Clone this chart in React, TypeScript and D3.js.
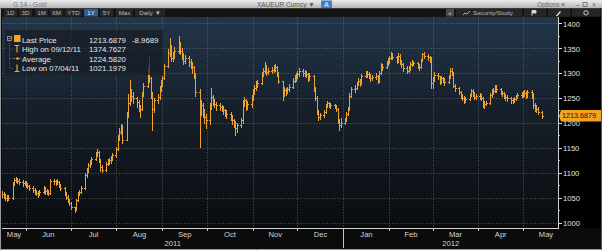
import React from "react";
import * as d3 from "d3";

const W = 602;
const H = 250;

// Daily closes, 16 May 2011 .. 14 May 2012 (weekdays)
const closes = [
  // May 2011
  1058, 1055, 1050, 1049, 1050, 1078, 1086, 1088, 1084, 1082, 1079, 1080,
  // Jun
  1076, 1073, 1070, 1066, 1062, 1060, 1057, 1061, 1070, 1063, 1062, 1060, 1083, 1083, 1080, 1082, 1076, 1070, 1060, 1052, 1045, 1040,
  // Jul
  1032, 1026, 1045, 1058, 1062, 1070, 1095, 1105, 1116, 1120, 1128, 1138, 1142, 1126, 1112, 1106, 1118, 1122, 1125, 1128, 1135,
  // Aug
  1148, 1170, 1182, 1190, 1165, 1218, 1240, 1262, 1255, 1250, 1242, 1232, 1228, 1258, 1275, 1298, 1290, 1258, 1228, 1245, 1252, 1270, 1280,
  // Sep
  1290, 1315, 1340, 1352, 1330, 1335, 1345, 1360, 1345, 1335, 1325, 1330, 1322, 1318, 1312, 1298, 1262, 1225, 1236, 1222, 1212, 1205,
  // Oct
  1232, 1252, 1245, 1238, 1235, 1232, 1230, 1226, 1220, 1218, 1212, 1205, 1200, 1190, 1196, 1205, 1240, 1245, 1232, 1238, 1250,
  // Nov
  1262, 1270, 1278, 1280, 1298, 1305, 1315, 1302, 1305, 1306, 1310, 1312, 1300, 1285, 1258, 1266, 1262, 1268, 1272, 1285, 1290, 1293,
  // Dec
  1298, 1305, 1300, 1302, 1298, 1290, 1295, 1268, 1250, 1222, 1212, 1215, 1222, 1235, 1240, 1238, 1236, 1234, 1228, 1205, 1195, 1200,
  // Jan 2012
  1205, 1218, 1228, 1255, 1268, 1270, 1278, 1285, 1280, 1295, 1300, 1298, 1296, 1290, 1292, 1295, 1285, 1300, 1315, 1312, 1320, 1325,
  // Feb
  1330, 1338, 1332, 1325, 1335, 1322, 1318, 1310, 1305, 1310, 1318, 1322, 1320, 1315, 1312, 1325, 1338, 1335, 1332, 1328, 1280,
  // Mar
  1288, 1296, 1294, 1282, 1290, 1286, 1282, 1292, 1305, 1300, 1275, 1270, 1262, 1255, 1250, 1246, 1248, 1255, 1264, 1260, 1252, 1254,
  // Apr
  1255, 1250, 1236, 1238, 1240, 1256, 1262, 1265, 1272, 1268, 1262, 1260, 1256, 1252, 1250, 1246, 1245, 1248, 1252, 1256, 1258,
  // May 2012
  1258, 1260, 1255, 1262, 1258, 1235, 1230, 1228, 1222.66, 1213.69,
];

const highs = [
  1064, 1062, 1058, 1055, 1056, 1082, 1090, 1092, 1090, 1088, 1085, 1084,
  1083, 1079, 1076, 1073, 1069, 1066, 1063, 1065, 1074, 1072, 1068, 1066, 1087, 1088, 1086, 1087, 1084, 1078, 1072, 1062, 1055, 1048,
  1042, 1030, 1048, 1062, 1066, 1074, 1100, 1110, 1120, 1126, 1132, 1142, 1147, 1143, 1128, 1115, 1122, 1127, 1130, 1133, 1140,
  1152, 1176, 1190, 1198, 1195, 1222, 1258, 1286, 1268, 1262, 1252, 1246, 1236, 1262, 1280, 1312, 1333, 1292, 1262, 1250, 1258, 1275, 1286,
  1294, 1318, 1348, 1371, 1356, 1342, 1352, 1375, 1362, 1350, 1340, 1336, 1334, 1328, 1322, 1315, 1300, 1268, 1245, 1240, 1228, 1218,
  1240, 1270, 1256, 1248, 1242, 1240, 1236, 1234, 1228, 1225, 1222, 1215, 1208, 1204, 1200, 1210, 1246, 1252, 1248, 1244, 1256,
  1268, 1276, 1284, 1286, 1302, 1310, 1322, 1316, 1310, 1312, 1316, 1318, 1314, 1302, 1282, 1272, 1270, 1272, 1278, 1290, 1296, 1300,
  1304, 1311, 1308, 1306, 1305, 1300, 1300, 1296, 1272, 1254, 1225, 1220, 1226, 1238, 1244, 1242, 1240, 1238, 1236, 1230, 1208, 1210,
  1210, 1222, 1232, 1260, 1272, 1276, 1282, 1290, 1288, 1298, 1305, 1304, 1302, 1298, 1296, 1300, 1296, 1304, 1320, 1318, 1324, 1330,
  1335, 1343, 1340, 1334, 1340, 1338, 1326, 1320, 1314, 1315, 1322, 1326, 1325, 1322, 1318, 1328, 1341, 1342, 1338, 1334, 1332,
  1292, 1302, 1300, 1295, 1294, 1292, 1290, 1296, 1310, 1311, 1302, 1278, 1272, 1264, 1258, 1254, 1252, 1258, 1268, 1268, 1262, 1258,
  1260, 1258, 1252, 1244, 1244, 1260, 1268, 1270, 1277, 1276, 1270, 1265, 1262, 1258, 1256, 1252, 1250, 1252, 1256, 1260, 1262,
  1264, 1266, 1264, 1266, 1266, 1260, 1240, 1236, 1232, 1224,
];

const lows = [
  1052, 1050, 1046, 1044, 1045, 1048, 1076, 1082, 1080, 1077, 1074, 1075,
  1072, 1069, 1066, 1062, 1058, 1055, 1052, 1055, 1059, 1058, 1057, 1055, 1058, 1078, 1076, 1077, 1072, 1066, 1056, 1048, 1041, 1035,
  1028, 1021, 1025, 1043, 1055, 1060, 1068, 1092, 1102, 1112, 1118, 1126, 1134, 1122, 1104, 1102, 1104, 1115, 1118, 1120, 1126,
  1132, 1146, 1166, 1178, 1160, 1165, 1212, 1236, 1244, 1240, 1232, 1224, 1212, 1226, 1255, 1272, 1282, 1250, 1186, 1222, 1240, 1248, 1265,
  1274, 1288, 1312, 1335, 1325, 1324, 1330, 1340, 1338, 1328, 1318, 1320, 1315, 1310, 1300, 1290, 1255, 1152, 1215, 1212, 1200, 1190,
  1198, 1228, 1236, 1232, 1226, 1225, 1224, 1218, 1214, 1210, 1206, 1198, 1192, 1176, 1182, 1192, 1200, 1234, 1225, 1228, 1232,
  1245, 1258, 1266, 1272, 1278, 1295, 1300, 1296, 1298, 1300, 1302, 1305, 1295, 1280, 1246, 1255, 1256, 1260, 1264, 1270, 1282, 1285,
  1290, 1295, 1294, 1295, 1292, 1285, 1286, 1264, 1245, 1218, 1206, 1208, 1212, 1220, 1232, 1232, 1230, 1230, 1224, 1200, 1186, 1192,
  1198, 1203, 1215, 1225, 1252, 1262, 1268, 1276, 1275, 1278, 1292, 1292, 1290, 1285, 1286, 1288, 1280, 1282, 1298, 1306, 1310, 1316,
  1320, 1328, 1328, 1320, 1322, 1318, 1312, 1305, 1300, 1303, 1306, 1315, 1316, 1310, 1306, 1310, 1324, 1330, 1326, 1322, 1270,
  1270, 1284, 1288, 1278, 1280, 1282, 1276, 1280, 1290, 1296, 1272, 1265, 1258, 1250, 1245, 1240, 1242, 1246, 1254, 1255, 1248, 1248,
  1248, 1245, 1232, 1230, 1235, 1238, 1252, 1258, 1262, 1262, 1258, 1254, 1250, 1246, 1244, 1240, 1240, 1242, 1246, 1250, 1252,
  1252, 1254, 1250, 1252, 1250, 1230, 1224, 1222, 1218, 1210,
];

const firstOpen = 1060;
const yTicks = [1000, 1050, 1100, 1150, 1200, 1250, 1300, 1350, 1400];
const yMinorTicks = [1025, 1075, 1125, 1175, 1225, 1275, 1325, 1375];
const lastPriceText = "1213.6879";
const legendLabels = ["Last Price", "High on 09/12/11", "Average", "Low on 07/04/11"];
const legendValues = ["1213.6879", "1374.7627", "1224.5820", "1021.1979"];
const legendChange = "-8.9689";
const rangeButtons = ["1D", "3D", "1M", "6M", "YTD", "1Y", "5Y", "Max", "Daily \u25BC"];
const years = [2011, 2012];

const FONT = "'Liberation Sans', Arial, 'DejaVu Sans', sans-serif";
const ORANGE = "#eba236";

export default function App() {
  const dates = d3
    .utcDay.range(new Date(Date.UTC(2011, 4, 16)), new Date(Date.UTC(2012, 4, 15)))
    .filter((d) => d.getUTCDay() % 6 !== 0);
  const n = Math.min(dates.length, closes.length, highs.length, lows.length);

  const PL = 2, PR = 558, PT = 17, PB = 228;
  const x = d3
    .scaleUtc()
    .domain([new Date(Date.UTC(2011, 5, 1)), new Date(Date.UTC(2012, 4, 1))])
    .range([26, 523]);
  const y = d3.scaleLinear().domain([1000, 1400]).range([222.5, 23.3]);

  let barPath = "";
  for (let i = 0; i < n; i++) {
    const open = i === 0 ? firstOpen : closes[i - 1];
    const c = closes[i];
    const hi = Math.max(highs[i], open, c);
    const lo = Math.min(lows[i], open, c);
    const bx = Math.round(x(dates[i]));
    const yh = Math.round(y(hi));
    const yl = Math.round(y(lo));
    const yo = Math.round(y(open));
    const yc = Math.round(y(c));
    barPath += `M${bx},${yh}h1v${Math.max(1, yl - yh + 1)}h-1z`;
    barPath += `M${bx - 1},${yo}h1v1h-1z`;
    barPath += `M${bx + 1},${yc}h1v1h-1z`;
  }

  const monthStarts = d3.utcMonth.range(new Date(Date.UTC(2011, 5, 1)), new Date(Date.UTC(2012, 4, 2)));
  const labelMonths = d3.utcMonth.range(new Date(Date.UTC(2011, 4, 1)), new Date(Date.UTC(2012, 5, 1)));
  const fmt = d3.utcFormat("%b");

  const lastY = y(closes[n - 1]);

  return (
    <svg
      width={W}
      height={H}
      viewBox={`0 0 ${W} ${H}`}
      style={{ position: "absolute", left: 0, top: 0, display: "block" }}
      fontFamily={FONT}
    >
      <defs>
        <linearGradient id="bg" x1="0" y1="0" x2="0" y2="1">
          <stop offset="0%" stopColor="#22364a" />
          <stop offset="45%" stopColor="#161f29" />
          <stop offset="100%" stopColor="#0a0c0f" />
        </linearGradient>
        <linearGradient id="title" x1="0" y1="0" x2="0" y2="1">
          <stop offset="0%" stopColor="#ececec" />
          <stop offset="100%" stopColor="#b4b4b4" />
        </linearGradient>
        <clipPath id="plotClip">
          <rect x={PL} y={PT} width={PR - PL} height={PB - PT} />
        </clipPath>
      </defs>

      <rect x={0} y={0} width={W} height={H} fill="#0b0b0c" />

      {/* title bar */}
      <rect x={0} y={0} width={W} height={8.5} fill="url(#title)" />
      <text x={13} y={7} fontSize={6.5} fill="#7a7a7a">G 14 - Gold</text>
      <text x={257} y={7} fontSize={6.5} fill="#555">XAUEUR Curncy  {"\u25BC"}</text>
      <rect x={321} y={0.5} width={11} height={7.5} fill="#3b7fd4" />
      <text x={326.5} y={7} fontSize={6.5} fill="#fff" textAnchor="middle">A</text>
      <text x={537} y={7} fontSize={6.5} fill="#666">Options {"\u2261"}</text>
      <text x={576} y={7} fontSize={6.5} fill="#666">{"\u2013"}</text>
      <rect x={583} y={2.5} width={4} height={4} fill="none" stroke="#666" strokeWidth={0.8} />
      <text x={592} y={7} fontSize={7} fill="#666">{"\u00D7"}</text>

      {/* toolbar */}
      <rect x={0} y={8.5} width={W} height={8.5} fill="#141414" />
      {rangeButtons.map((b, i) => {
        const xs = [4, 19, 35, 50, 65, 84, 100, 116, 135];
        const ws = [13, 13, 13, 13, 17, 14, 13, 17, 30];
        const active = b === "1Y";
        return (
          <g key={b}>
            <rect x={xs[i]} y={9} width={ws[i]} height={7.5} fill={active ? "#2c5d93" : "#262626"} />
            <text x={xs[i] + ws[i] / 2} y={15.2} fontSize={6.2} fill={active ? "#e8f0ff" : "#b8b8b8"} textAnchor="middle">
              {b}
            </text>
          </g>
        );
      })}
      <rect x={446} y={9} width={8} height={7.5} fill="#4a4a4a" />
      <text x={450} y={15.2} fontSize={6} fill="#ccc" textAnchor="middle">{"\u00AB"}</text>
      <rect x={456} y={9} width={66} height={7.5} fill="#262626" />
      <path d="M463,15 l2,-2 l2,1 l3,-3" stroke="#ccc" strokeWidth={0.8} fill="none" />
      <text x={473} y={15.2} fontSize={6.2} fill="#b8b8b8">Security/Study</text>
      <rect x={524} y={9} width={22} height={7.5} fill="#262626" />
      <path d="M532,15.5 v-5 h4 v2.5 h-4" stroke="#ddd" strokeWidth={0.9} fill="#ddd" />
      <rect x={548} y={9} width={22} height={7.5} fill="#262626" />
      <path d="M556,15.5 l4,-4.5 l1,1 l-4,4.5z" fill="#ddd" />
      <rect x={572} y={9} width={28} height={7.5} fill="#262626" />
      <circle cx={586} cy={12.8} r={2.2} fill="none" stroke="#ddd" strokeWidth={0.9} />

      {/* plot background */}
      <rect x={PL} y={PT} width={PR - PL} height={PB - PT} fill="url(#bg)" />

      {/* grid */}
      <g stroke="#7c8590" strokeWidth={0.7} strokeDasharray="1,1.6" opacity={0.8}>
        {yTicks.map((t) => (
          <line key={t} x1={PL} x2={PR} y1={Math.round(y(t)) + 0.5} y2={Math.round(y(t)) + 0.5} />
        ))}
        {monthStarts.map((m) => (
          <line key={+m} x1={Math.round(x(m)) + 0.5} x2={Math.round(x(m)) + 0.5} y1={PT} y2={PB} />
        ))}
      </g>

      {/* bars */}
      <g clipPath="url(#plotClip)">
        <path d={barPath} fill={ORANGE} shapeRendering="crispEdges" />
      </g>

      {/* legend */}
      <rect x={5} y={30} width={158} height={45} fill="#161c24" opacity={0.72} />
      <g fontSize={7.8} fill="#e6e6e6">
        {legendLabels.map((l, i) => {
          const by = 42.5 + i * 9.6;
          return (
            <g key={l}>
              <text x={22} y={by}>{l}</text>
              <text x={89} y={by}>{legendValues[i]}</text>
            </g>
          );
        })}
        <text x={132} y={42.5}>{legendChange}</text>
      </g>
      <rect x={7.5} y={36.5} width={4} height={4} fill="none" stroke="#9aa" strokeWidth={0.8} />
      <line x1={8.2} x2={10.8} y1={38.5} y2={38.5} stroke="#9aa" strokeWidth={0.7} />
      <line x1={9.5} x2={9.5} y1={41} y2={69} stroke="#778" strokeWidth={0.7} strokeDasharray="1,1" />
      {[49, 58.6, 68.2].map((ty) => (
        <line key={ty} x1={9.5} x2={13} y1={ty} y2={ty} stroke="#778" strokeWidth={0.7} strokeDasharray="1,1" />
      ))}
      <rect x={14} y={35} width={6.5} height={7} fill="#f2a51d" />
      <path d="M14.5,45.5 h5 M17,45.5 v7" stroke={ORANGE} strokeWidth={1.2} fill="none" />
      <path d="M13.5,58.6 h8" stroke={ORANGE} strokeWidth={0.9} strokeDasharray="1.5,1" />
      <circle cx={17.5} cy={58.6} r={1.3} fill={ORANGE} />
      <path d="M14.5,71.5 h5 M17,64.5 v7" stroke={ORANGE} strokeWidth={1.2} fill="none" />

      {/* right axis */}
      <rect x={PR} y={PT} width={W - PR} height={PB - PT} fill="#000" />
      <line x1={PR + 0.5} x2={PR + 0.5} y1={PT} y2={PB + 1} stroke="#d0d0d0" strokeWidth={1} />
      {yTicks.map((t) => (
        <g key={t}>
          <line x1={PR} x2={PR + 4} y1={Math.round(y(t)) + 0.5} y2={Math.round(y(t)) + 0.5} stroke="#d8d8d8" strokeWidth={1} />
          <text x={PR + 5} y={y(t) + 3.3} fontSize={7.6} fill="#e2e2e2">{t}</text>
        </g>
      ))}
      {yMinorTicks.map((t) => (
        <line key={t} x1={PR} x2={PR + 2} y1={Math.round(y(t)) + 0.5} y2={Math.round(y(t)) + 0.5} stroke="#bbb" strokeWidth={1} />
      ))}

      {/* last price tag */}
      <path
        d={`M${PR + 1},${lastY} L${PR + 3},${lastY - 6} H${W - 1} V${lastY + 5.5} H${PR + 3} Z`}
        fill="#f3a323"
      />
      <text x={PR + 4} y={lastY + 1.5} fontSize={7.2} fill="#1a1205">{lastPriceText}</text>

      {/* bottom axis */}
      <rect x={0} y={PB} width={W} height={H - PB} fill="#0b0b0c" />
      <line x1={PL} x2={PR + 1} y1={PB + 0.5} y2={PB + 0.5} stroke="#d0d0d0" strokeWidth={1} />
      {monthStarts.map((m) => (
        <line key={+m} x1={Math.round(x(m)) + 0.5} x2={Math.round(x(m)) + 0.5} y1={PB} y2={PB + 3} stroke="#c8c8c8" strokeWidth={1} />
      ))}
      <line
        x1={Math.round(x(new Date(Date.UTC(2012, 0, 1)))) + 0.5}
        x2={Math.round(x(new Date(Date.UTC(2012, 0, 1)))) + 0.5}
        y1={PB}
        y2={H - 2}
        stroke="#c8c8c8"
        strokeWidth={1}
      />
      <g fontSize={7.6} fill="#d4d4d4" textAnchor="middle">
        {labelMonths.map((m) => {
          const a = Math.max(PL, x(m));
          const b = Math.min(569, x(d3.utcMonth.offset(m, 1)));
          return (
            <text key={+m} x={(a + b) / 2} y={236.5}>
              {fmt(m)}
            </text>
          );
        })}
        {years.map((yr) => {
          const a = Math.max(PL, x(new Date(Date.UTC(yr, 0, 1))));
          const b = Math.min(PR, x(new Date(Date.UTC(yr + 1, 0, 1))));
          return (
            <text key={yr} x={(a + b) / 2} y={245.5}>
              {yr}
            </text>
          );
        })}
      </g>

      {/* frame */}
      <line x1={0.5} x2={0.5} y1={8.5} y2={H} stroke="#9a9a9a" strokeWidth={1} />
      <line x1={0} x2={W} y1={H - 0.5} y2={H - 0.5} stroke="#9a9a9a" strokeWidth={1} />
      <line x1={W - 0.5} x2={W - 0.5} y1={8.5} y2={H} stroke="#555" strokeWidth={1} />
    </svg>
  );
}
